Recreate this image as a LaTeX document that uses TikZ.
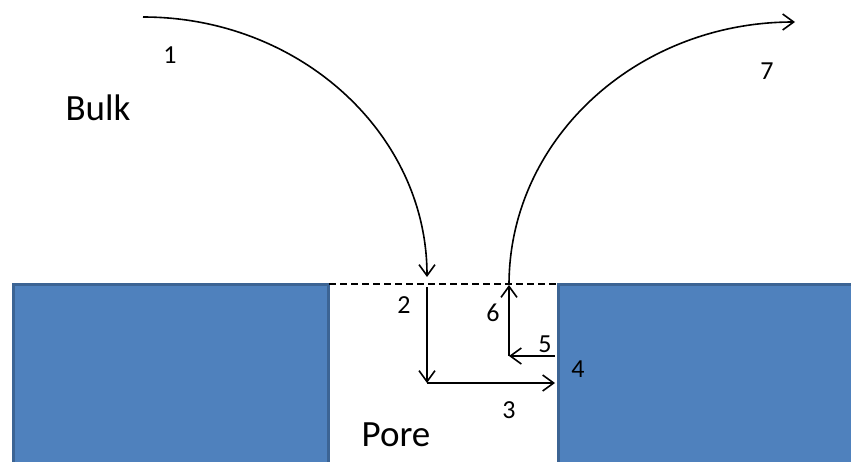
\documentclass[tikz,border=0pt]{standalone}
\usepackage{fontspec}
\setmainfont{Carlito}
\usetikzlibrary{arrows.meta,calc,positioning}

\begin{document}
\begin{tikzpicture}[x=1pt,y=-1pt,
  wall/.style={draw=wallrim,fill=wallfill,line width=3pt},
  path/.style={draw=black,line width=1.6pt,-{Straight Barb[length=11pt,width=16pt,line width=1.6pt]}},
  rim/.style={draw=black,line width=2pt,dash pattern=on 7pt off 4pt},
  num/.style={anchor=base,font=\fontsize{26}{31}\selectfont,inner sep=0pt},
  word/.style={anchor=base,font=\fontsize{37}{44}\selectfont,inner sep=0pt}
]
  \definecolor{wallfill}{HTML}{4F81BD}
  \definecolor{wallrim}{HTML}{3C6494}
  \useasboundingbox (0,0) rectangle (851,461);
  \clip (0,0) rectangle (851,461);

  % the two walls and the pore mouth
  \path[wall] (13,284) rectangle (328,475);
  \path[wall] (558,284) rectangle (870,475);
  \coordinate (mouthL) at (329,284);
  \coordinate (mouthR) at (557,284);
  \draw[rim] (mouthL) -- (mouthR);

  % way of a molecule
  \coordinate (start) at (143,17);
  \coordinate (enter) at (427,277);
  \coordinate (down) at (427,287);
  \coordinate (bottom) at (427,383);
  \coordinate (hit) at (555,383);
  \coordinate (back) at (555,356);
  \coordinate (turn) at (509,356);
  \coordinate (leave) at (509,285);
  \coordinate (finish) at (795,22);

  \draw[path] (start) .. controls (300,17) and (427,134) .. (enter);
  \draw[path] (down) -- (bottom);
  \draw[path] (bottom) -- (hit);
  \draw[path] (back) -- (turn);
  \draw[path] (turn) -- (leave);
  \draw[path] (leave) .. controls (509,139) and (637,22) .. (finish);

  % labels
  \node[num] (n1) at (170,63) {1};
  \node[num] (n2) at (404,313) {2};
  \node[num] (n3) at (509,418) {3};
  \node[num] (n4) at (578,377) {4};
  \node[num] (n5) at (545,352) {5};
  \node[num] (n6) at (493,321) {6};
  \node[num] (n7) at (767,79) {7};
  \node[word] (bulk) at (98,120) {Bulk};
  \node[word] (pore) at (396,446) {Pore};
\end{tikzpicture}
\end{document}
